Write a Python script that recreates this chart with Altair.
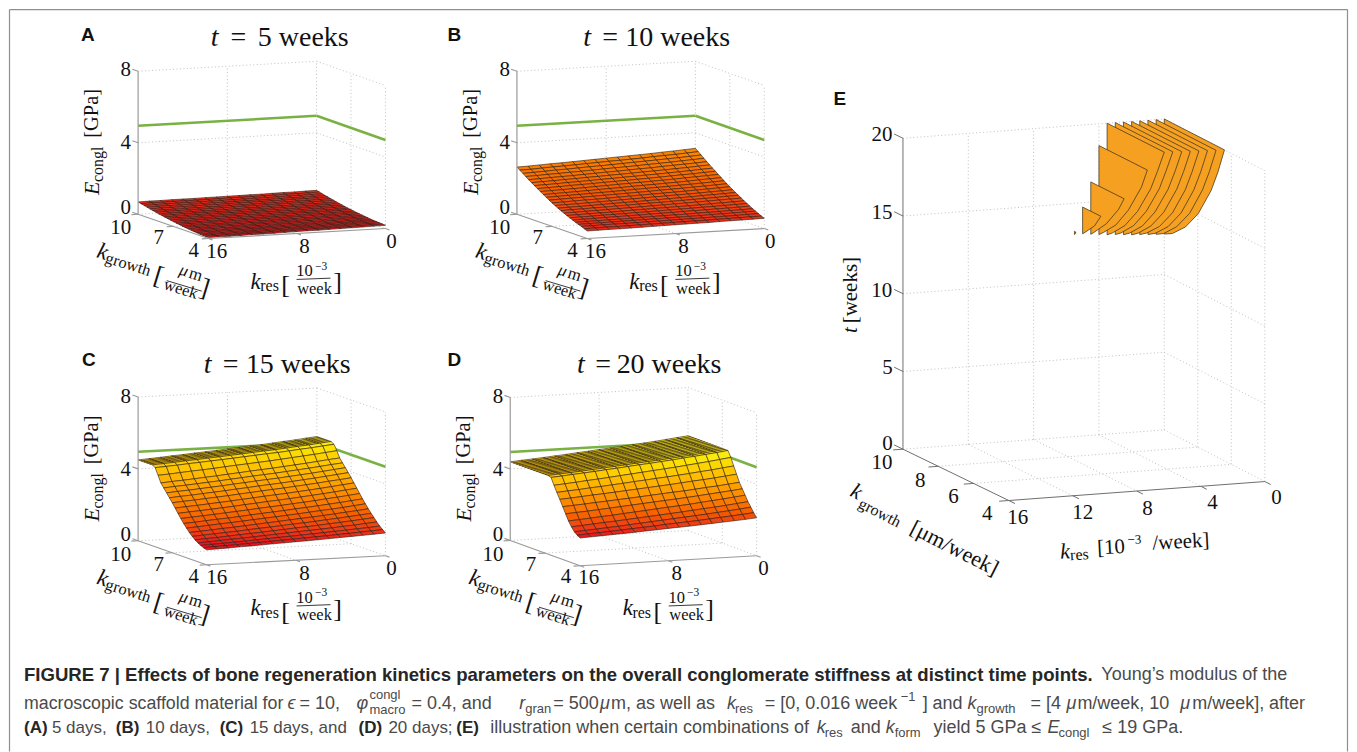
import altair as alt
import pandas as pd

# ---- axis ticks -----------------------------------------------------------
KRES_TICKS_SMALL = [16, 8, 0]
KG_TICKS_SMALL = [10, 7, 4]
E_TICKS = [0, 4, 8]
KRES_TICKS_E = [16, 12, 8, 4, 0]
KG_TICKS_E = [10, 8, 6, 4]
T_TICKS = [0, 5, 10, 15, 20]

# ---- surface grids: E_congl in 0.01 GPa -------------------------------------
# columns k_res = 16, 15, ... 0 ; rows k_growth = 10, 9.75, ... 4
E_A = [
[69,70,70,71,71,71,72,72,73,73,74,74,75,76,76,77,78],
[65,66,66,67,67,67,68,68,69,69,70,70,71,72,72,73,74],
[61,62,62,63,63,63,64,64,65,65,66,66,67,68,68,69,70],
[57,58,58,59,59,59,60,60,61,61,62,62,63,64,64,65,66],
[53,54,54,55,55,56,56,57,58,58,59,59,60,61,61,62,63],
[49,50,50,51,51,52,52,53,54,54,55,55,56,57,57,58,59],
[46,47,47,48,48,49,49,50,51,51,52,52,53,54,54,55,56],
[42,43,43,44,44,45,45,46,47,47,48,48,49,50,50,51,52],
[39,40,40,41,41,42,42,43,44,44,45,45,46,47,47,48,49],
[36,37,37,38,38,39,39,40,41,41,42,42,43,44,44,45,46],
[33,34,34,35,35,36,36,37,38,38,39,39,40,41,41,42,43],
[30,31,31,32,32,33,33,34,35,35,36,36,37,38,38,39,40],
[27,28,28,29,29,30,31,31,32,33,33,34,35,35,36,37,38],
[24,25,25,26,26,27,28,28,29,30,30,31,32,32,33,34,35],
[22,23,23,24,24,25,26,26,27,28,28,29,30,30,31,32,33],
[19,20,20,21,21,22,23,23,24,25,25,26,27,28,29,30,31],
[17,18,18,19,19,20,21,21,22,23,23,24,25,26,27,28,29],
[15,16,16,17,17,18,19,19,20,21,21,22,23,24,25,26,27],
[13,14,14,15,15,16,17,17,18,19,19,20,21,22,23,24,25],
[11,12,12,13,13,14,15,15,16,17,17,18,19,20,21,22,23],
[10,11,11,12,12,13,14,14,15,16,16,17,18,19,20,21,22],
[8,9,9,10,11,11,12,13,14,15,15,16,17,18,19,20,21],
[7,8,8,9,10,10,11,12,13,14,14,15,16,17,18,19,20],
[6,7,7,8,9,9,10,11,12,13,13,14,15,16,17,18,19],
[5,6,6,7,8,8,9,10,11,12,12,13,14,15,16,17,18],
]
E_B = [
[264,266,269,272,274,277,280,283,286,289,292,295,298,302,305,309,313],
[252,254,257,260,262,265,268,271,274,276,279,282,286,289,292,296,300],
[240,242,245,248,250,253,256,258,261,264,267,270,273,276,279,283,287],
[228,230,233,235,238,240,243,246,249,251,254,257,260,263,267,270,274],
[216,218,221,223,225,228,231,234,236,239,242,244,248,251,254,257,261],
[205,207,209,212,214,217,219,222,224,227,230,232,235,238,241,245,248],
[194,196,198,201,203,205,208,210,213,215,218,220,223,226,229,233,236],
[183,185,187,190,192,194,197,199,201,204,206,209,212,215,217,221,224],
[172,174,176,178,180,183,185,188,190,192,195,197,200,203,206,209,212],
[161,163,165,167,169,172,174,176,179,181,183,186,188,191,194,197,200],
[151,153,155,157,159,161,163,165,168,170,172,174,177,179,182,185,188],
[141,143,145,147,149,151,153,155,157,159,162,164,166,169,171,174,177],
[131,133,135,137,138,140,143,145,147,149,151,153,155,158,160,163,166],
[122,124,125,127,129,131,133,135,137,139,141,143,145,147,150,152,155],
[113,115,116,118,120,122,124,125,127,129,131,133,135,138,140,142,145],
[105,107,108,110,111,113,115,117,119,120,122,124,126,128,130,133,135],
[97,98,100,101,103,105,106,108,110,111,113,115,117,119,121,123,125],
[89,90,92,93,94,96,98,99,101,102,104,105,107,109,111,113,115],
[82,83,84,86,87,88,90,91,93,94,96,97,99,100,102,104,106],
[75,76,77,79,80,81,82,84,85,86,88,89,90,92,93,95,97],
[68,69,70,71,72,73,75,76,77,78,79,81,82,83,85,86,88],
[62,63,64,65,66,67,68,69,70,71,72,73,75,76,77,79,80],
[56,57,58,59,59,60,61,62,63,64,65,66,67,68,69,71,72],
[49,50,51,51,52,53,54,55,56,57,58,58,60,61,62,63,64],
[42,43,44,44,45,46,47,48,49,50,51,51,53,54,55,56,57],
]
PLATEAU_C = [450,454,458,463,467,472,476,481,486,491,496,500,506,512,517,524,530]
E_C = [PLATEAU_C] * 6 + [
[440,444,448,453,457,462,466,471,476,481,486,490,496,502,507,514,520],
[403,407,412,417,421,426,432,437,442,447,452,458,464,470,476,483,490],
[366,371,375,380,385,390,396,401,407,412,417,423,429,435,442,449,455],
[344,349,353,358,363,368,374,379,385,390,395,401,407,413,420,427,433],
[322,327,331,336,341,346,352,357,363,368,373,379,385,391,398,405,412],
[300,305,309,314,319,324,330,335,341,346,351,357,363,369,376,383,390],
[278,283,287,292,297,302,308,313,319,324,329,335,341,347,354,360,367],
[254,259,263,268,273,278,284,289,295,300,305,311,317,323,330,337,344],
[230,235,239,244,249,254,260,265,271,276,281,287,293,299,306,313,320],
[207,212,216,221,226,231,236,242,247,252,258,263,269,276,282,289,296],
[185,189,194,199,203,208,214,219,224,229,235,240,246,252,258,265,272],
[165,169,174,179,183,188,193,198,203,208,213,219,225,230,236,243,250],
[146,150,154,159,163,168,173,178,183,188,193,198,203,209,215,221,228],
[130,134,138,142,146,151,156,160,165,170,174,179,185,190,196,202,208],
[116,120,123,128,132,136,140,145,149,154,158,163,168,173,178,184,190],
[105,108,112,116,119,123,127,131,135,139,143,147,151,156,160,166,171],
[96,99,102,105,108,112,115,119,122,126,129,133,137,141,145,149,154],
[89,92,94,97,100,103,106,109,112,115,118,121,125,128,132,136,140],
[83,85,87,90,92,95,98,100,103,105,108,111,114,117,120,123,127],
]
PLATEAU_D = [440,445,449,454,459,464,470,475,481,486,491,497,503,509,516,523,530]
E_D = [PLATEAU_D] * 14 + [
[435,440,445,450,455,461,466,472,478,483,489,495,502,508,515,522,530],
[397,402,407,413,418,424,430,436,442,448,454,460,467,474,481,489,497],
[363,368,372,378,382,388,393,399,404,410,415,421,427,434,440,448,455],
[330,334,339,344,348,353,358,363,368,373,378,384,390,395,401,408,415],
[295,299,303,308,312,317,321,326,331,336,341,345,351,357,362,369,375],
[261,265,269,274,279,284,289,294,299,304,309,314,320,326,332,338,345],
[227,231,236,241,245,251,256,261,267,272,277,282,289,295,301,308,315],
[200,204,209,214,218,223,228,233,238,243,248,254,260,265,271,278,285],
[178,182,186,191,195,200,205,210,215,220,225,230,235,241,247,253,260],
[165,169,172,176,180,184,188,192,197,201,205,209,214,219,224,229,235],
[155,158,161,164,167,170,174,177,181,184,187,191,195,199,203,207,212],
]
GREEN_E = [4.95, 4.95, 4.95]

# ---- panel E slices: k_res -> outline (k_growth, t) along the lower curve ----
SLICE_TOP = {0: 20, .5: 20, 1: 20, 1.5: 20, 2: 20, 2.5: 20, 3: 20, 3.5: 20, 4: 18.6, 4.5: 16.3, 5: 14.72, 5.5: 13.2}
SLICES = {
0: [(10,12.6),(9.52,12.9),(8.74,13.75),(7.97,15.04),(7.2,16.96),(6.8,18.35),(6.41,20)],
.5: [(10,12.62),(9.55,12.92),(8.78,13.78),(8.0,15.08),(7.24,17.0),(6.83,18.4),(6.43,20)],
1: [(10,12.65),(9.58,12.95),(8.8,13.82),(8.03,15.12),(7.27,17.03),(6.86,18.42),(6.46,20)],
1.5: [(10,12.68),(9.6,13.0),(8.83,13.85),(8.06,15.15),(7.3,17.05),(6.89,18.45),(6.49,20)],
2: [(10,12.7),(9.62,13.02),(8.86,13.9),(8.1,15.2),(7.33,17.1),(6.92,18.47),(6.52,20)],
2.5: [(10,12.75),(9.64,13.05),(8.88,13.93),(8.13,15.25),(7.36,17.13),(6.95,18.5),(6.55,20)],
3: [(10,12.8),(9.67,13.08),(8.92,13.97),(8.17,15.3),(7.4,17.18),(7.0,18.55),(6.6,20)],
3.5: [(10,12.82),(9.7,13.1),(8.95,14.0),(8.2,15.33),(7.43,17.2),(7.03,18.55),(6.63,20)],
4: [(10,12.88),(9.74,13.15),(9.0,14.05),(8.27,15.4),(7.5,17.3),(7.15,18.6)],
4.5: [(10,12.93),(9.78,13.2),(9.08,14.12),(8.36,15.45),(8.04,16.3)],
5: [(10,13.0),(9.8,13.25),(9.3,13.9),(8.93,14.72)],
5.5: [(10,13.0),(9.93,13.1)],
}

# ---- layout of the figure (pixels on the page) ------------------------------
ORIGIN = 8
W, H = 1341, 744
PANELS = {
    "A": dict(O=(137.3, 214), B=(316, 204), F=(207.7, 238.3), R=(385, 228.3), zs=17.9, lo=0, hi=14.0),
    "B": dict(O=(516.7, 214), B=(695.4, 204), F=(587.1, 238.3), R=(764.4, 228.3), zs=17.9, lo=0.2, hi=6.5),
    "C": dict(O=(137.3, 541), B=(316.3, 532), F=(205.7, 565), R=(385, 556), zs=18, lo=1.0, hi=5.2),
    "D": dict(O=(510, 540.7), B=(688, 530.7), F=(580, 566), R=(756.7, 556), zs=17.9, lo=1.6, hi=5.0),
    "E": dict(O=(903.3, 449.3), B=(1165, 430), F=(1009.3, 500.7), R=(1265.7, 481.7), zs=15.57, lo=0, hi=1),
}
XS = alt.Scale(domain=[ORIGIN, ORIGIN + W], nice=False, zero=False)
YS = alt.Scale(domain=[ORIGIN + H, ORIGIN], nice=False, zero=False)


def project(p, kres, kg, z):
    s = (16 - kres) / 16
    r = (10 - kg) / 6
    q = PANELS[p]
    x = (1-s)*(1-r)*q["O"][0] + s*(1-r)*q["B"][0] + (1-s)*r*q["F"][0] + s*r*q["R"][0]
    y = (1-s)*(1-r)*q["O"][1] + s*(1-r)*q["B"][1] + (1-s)*r*q["F"][1] + s*r*q["R"][1]
    return x, y - z * q["zs"]


def seg(p, a, b):
    x, y = project(p, *a)
    x2, y2 = project(p, *b)
    return dict(x=x, y=y, x2=x2, y2=y2)


def box(p, kres_t, kg_t, z_t):
    top = max(z_t)
    dotted, solid = [], []
    for z in z_t:
        dotted.append(seg(p, (16, 10, z), (0, 10, z)))
        dotted.append(seg(p, (0, 10, z), (0, 4, z)))
    for k in kres_t:
        if k != 16:
            dotted.append(seg(p, (k, 10, 0), (k, 10, top)))
        if k not in (16, 0):
            dotted.append(seg(p, (k, 10, 0), (k, 4, 0)))
    for g in kg_t:
        if g != 10:
            dotted.append(seg(p, (0, g, 0), (0, g, top)))
        if g not in (10, 4):
            dotted.append(seg(p, (16, g, 0), (0, g, 0)))
    solid.append(seg(p, (16, 10, 0), (16, 10, top)))
    solid.append(seg(p, (16, 10, 0), (16, 4, 0)))
    solid.append(seg(p, (16, 4, 0), (0, 4, 0)))
    for k in kres_t:
        solid.append(seg(p, (k, 4, 0), (k, 3.65, 0)))
    for g in kg_t:
        solid.append(seg(p, (16, g, 0), (16.6, g, 0)))
    for z in z_t:
        solid.append(seg(p, (16, 10, z), (16, 10.5, z)))
    return dotted, solid


def rules(rows, **kw):
    return alt.Chart(pd.DataFrame(rows)).mark_rule(**kw).encode(
        x=alt.X("x:Q", scale=XS, axis=None), y=alt.Y("y:Q", scale=YS, axis=None),
        x2="x2:Q", y2="y2:Q")


def texts(rows, font="Liberation Serif", align="center", color="#111111", **kw):
    df = pd.DataFrame(rows, columns=["t", "x", "y", "s", "a"])
    return alt.Chart(df).mark_text(font=font, align=align, baseline="middle", color=color, **kw).encode(
        x=alt.X("x:Q", scale=XS, axis=None), y=alt.Y("y:Q", scale=YS, axis=None),
        text="t:N", size=alt.Size("s:Q", scale=None), angle=alt.Angle("a:Q", scale=None))


# ---- grids and axes ----------------------------------------------------------
dotted, solid = [], []
for p in "ABCD":
    d, s = box(p, KRES_TICKS_SMALL, KG_TICKS_SMALL, E_TICKS)
    dotted += d
    solid += s
d_e, s_e = box("E", KRES_TICKS_E, KG_TICKS_E, T_TICKS)

green = []
for p in "ABCD":
    green.append(seg(p, (16, 10, GREEN_E[0]), (0, 10, GREEN_E[1])))
    green.append(seg(p, (0, 10, GREEN_E[1]), (0, 4, GREEN_E[2])))

# ---- surfaces -------------------------------------------------------------------
cells = []
for p, grid in zip("ABCD", (E_A, E_B, E_C, E_D)):
    q = PANELS[p]
    for i in range(24):
        g0, g1 = 10 - i * .25, 10 - (i + 1) * .25
        for j in range(16):
            k0, k1 = 16 - j, 16 - (j + 1)
            zs = [grid[i][j] / 100, grid[i][j+1] / 100, grid[i+1][j+1] / 100, grid[i+1][j] / 100]
            pts = [project(p, k0, g0, zs[0]), project(p, k1, g0, zs[1]),
                   project(p, k1, g1, zs[2]), project(p, k0, g1, zs[3])]
            ring = [[x - ORIGIN, y - ORIGIN] for x, y in pts]
            ring.append(ring[0])
            level = min(1, max(0, (sum(zs) / 4 - q["lo"]) / (q["hi"] - q["lo"])))
            cells.append({"type": "Feature", "properties": {"level": level},
                          "geometry": {"type": "Polygon", "coordinates": [ring]}})

surface = alt.Chart(alt.Data(values=cells)).mark_geoshape(
    stroke="#2b1c14", strokeWidth=0.6).encode(
    color=alt.Color("properties.level:Q", legend=None,
                    scale=alt.Scale(domain=[0, 1], range=["#e8141e", "#f9ea0f"]))
).project(type="identity", scale=1, translate=[0, 0])

slices = []
for k in sorted(SLICES):
    line = SLICES[k]
    pts = [project("E", k, 10, SLICE_TOP[k])] + [project("E", k, g, t) for g, t in reversed(line)]
    if line[-1][1] != SLICE_TOP[k]:
        pts.insert(1, project("E", k, line[-1][0], SLICE_TOP[k]))
    ring = [[x - ORIGIN, y - ORIGIN] for x, y in pts]
    ring.append(ring[0])
    slices.append({"type": "Feature", "properties": {"k": k},
                   "geometry": {"type": "Polygon", "coordinates": [ring]}})
slice_chart = alt.Chart(alt.Data(values=slices)).mark_geoshape(
    fill="#f5a020", stroke="#4a3a20", strokeWidth=0.8
).project(type="identity", scale=1, translate=[0, 0])

# ---- text -----------------------------------------------------------------------
OFFSETS = {"A": (0, 0), "B": (379.4, 0), "C": (0, 327), "D": (372.7, 327)}
TITLES = {"A": ("5 weeks", 210, 227.7, 256.7, 38), "B": ("10 weeks", 583, 600, 631.7, 38),
          "C": ("15 weeks", 203, 220, 251.7, 365), "D": ("20 weeks", 576.7, 593, 623, 365)}
LETTERS = [("A", 87, 34.5), ("B", 454, 34.5), ("C", 88, 360), ("D", 454, 360), ("E", 840, 99)]

roman, italic, bars = [], [], []
for p, (dx, dy) in OFFSETS.items():
    lab, tx, ex, wx, ty = TITLES[p]
    italic.append(("t", tx + 4, ty, 28, 0))
    roman.append(("=", ex + 10, ty, 28, 0))
    roman.append((lab, wx + 46, ty, 28, 0))
    for t, x, y in [("8", 125, 70), ("4", 125, 143), ("0", 125, 208), ("10", 120, 228), ("7", 158, 238),
                    ("4", 193, 250.7), ("16", 216, 251.7), ("8", 304, 247), ("0", 391, 242)]:
        roman.append((t, x + dx, y + dy, 21, 0))
    italic.append(("E", 91 + dx, 188 + dy, 22, 270))
    roman.append(("congl", 97 + dx, 164 + dy, 16, 270))
    roman.append(("[GPa]", 91 + dx, 113 + dy, 20.5, 270))
    italic.append(("k", 101.7 + dx, 251.7 + dy, 23, 17))
    roman.append(("growth", 127.3 + dx, 264.3 + dy, 16.5, 17))
    roman.append(("[", 158 + dx, 276 + dy, 26, 17))
    italic.append(("μ", 183 + dx, 270.5 + dy, 17, 17))
    roman.append(("m", 195 + dx, 274.5 + dy, 17, 17))
    roman.append(("week", 180 + dx, 289 + dy, 16.5, 17))
    roman.append(("]", 204 + dx, 288 + dy, 26, 17))
    bars.append(dict(x=166 + dx, y=280.5 + dy, x2=201 + dx, y2=291 + dy))
    italic.append(("k", 255 + dx, 281.7 + dy, 23, 0))
    roman.append(("res", 269 + dx, 286 + dy, 16, 0))
    roman.append(("[", 285 + dx, 285 + dy, 26, 0))
    roman.append(("10", 304 + dx, 271 + dy, 16.5, 0))
    roman.append(("−3", 320.5 + dx, 266.7 + dy, 11.5, 0))
    roman.append(("week", 314 + dx, 288.5 + dy, 16.5, 0))
    roman.append(("]", 337 + dx, 282 + dy, 26, 0))
    bars.append(dict(x=296 + dx, y=279.3 + dy, x2=330 + dx, y2=278 + dy))

for t, x, y in [("20", 882.3, 135), ("15", 882.3, 212.7), ("10", 882, 290.7), ("5", 887.7, 368.3), ("0", 887.7, 444.5),
                ("10", 882.3, 463.5), ("8", 920.7, 480.7), ("6", 954, 497.3), ("4", 987.7, 514),
                ("16", 1018.3, 518.3), ("12", 1083.3, 513.3), ("8", 1148.3, 509), ("4", 1213.3, 503.3), ("0", 1277.3, 498.3)]:
    roman.append((t, x, y, 21, 0))
italic.append(("t", 851.7, 330, 21, 270))
roman.append(("[weeks]", 851.7, 290, 21, 270))
italic.append(("k", 856.7, 491.7, 22, 27))
roman.append(("growth", 880, 513, 16, 27))
roman.append(("[μm/week]", 955, 548.3, 22, 27))
italic.append(("k", 1065.7, 551.7, 22, 357))
roman.append(("res", 1080, 555, 16, 357))
roman.append(("[10", 1111.7, 548, 21, 357))
roman.append(("−3", 1135, 540, 13, 357))
roman.append(("/week]", 1181.7, 542.3, 21, 357))

CAP_Y = (675, 704, 729)
FS = 18
SUB = 13
L3 = 17
bold_cap = [
    ("FIGURE 7 | Effects of bone regeneration kinetics parameters on the overall conglomerate stiffness at distinct time points.", 23, CAP_Y[0], 18.6, 0),
    ("(A)", 23, CAP_Y[2], 17, 0), ("(B)", 115, CAP_Y[2], 17, 0), ("(C)", 219, CAP_Y[2], 17, 0),
    ("(D)", 358, CAP_Y[2], 17, 0), ("(E)", 456, CAP_Y[2], 17, 0),
]
body_cap = [
    ("Young’s modulus of the", 1102, CAP_Y[0], FS, 0),
    ("macroscopic scaffold material for", 23, CAP_Y[1], 17.8, 0),
    ("= 10,", 299, CAP_Y[1], FS, 0),
    ("congl", 369, CAP_Y[1] - 9, SUB, 0), ("macro", 369, CAP_Y[1] + 6, SUB, 0),
    ("= 0.4, and", 411, CAP_Y[1], FS, 0),
    ("gran", 525, CAP_Y[1] + 5, SUB, 0),
    ("= 500", 553, CAP_Y[1], FS, 0), ("m, as well as", 611, CAP_Y[1], FS, 0),
    ("res", 735, CAP_Y[1] + 5, SUB, 0),
    ("= [0, 0.016 week", 765, CAP_Y[1], FS, 0), ("−1", 901, CAP_Y[1] - 7, SUB, 0),
    ("] and", 923, CAP_Y[1], FS, 0),
    ("growth", 977, CAP_Y[1] + 5, SUB, 0),
    ("= [4", 1031, CAP_Y[1], FS, 0), ("m/week, 10", 1078, CAP_Y[1], FS, 0), ("m/week], after", 1193, CAP_Y[1], FS, 0),
    ("5 days,", 51, CAP_Y[2], L3, 0), ("10 days,", 145, CAP_Y[2], L3, 0), ("15 days, and", 249, CAP_Y[2], L3, 0),
    ("20 days;", 388, CAP_Y[2], L3, 0), ("illustration when certain combinations of", 490, CAP_Y[2], FS, 0),
    ("res", 825, CAP_Y[2] + 5, SUB, 0), ("and", 851, CAP_Y[2], FS, 0),
    ("form", 895, CAP_Y[2] + 5, SUB, 0), ("yield 5 GPa ≤", 934, CAP_Y[2], FS, 0),
    ("congl", 1059, CAP_Y[2] + 5, SUB, 0), ("≤ 19 GPa.", 1103, CAP_Y[2], FS, 0),
]
ital_cap = [
    ("ϵ", 287, CAP_Y[1], FS, 0), ("φ", 356, CAP_Y[1], FS, 0), ("r", 519, CAP_Y[1], FS, 0),
    ("μ", 600, CAP_Y[1], FS, 0), ("k", 727, CAP_Y[1], FS, 0), ("k", 968, CAP_Y[1], FS, 0),
    ("μ", 1067, CAP_Y[1], FS, 0), ("μ", 1181, CAP_Y[1], FS, 0),
    ("k", 817, CAP_Y[2], FS, 0), ("k", 886, CAP_Y[2], FS, 0), ("E", 1048, CAP_Y[2], FS, 0),
]

frame = [dict(x=8.5, y=9, x2=8.5, y2=752), dict(x=1348.5, y=9, x2=1348.5, y2=752),
         dict(x=8.5, y=9, x2=1348.5, y2=9)]

chart = alt.layer(
    rules(frame, color="#8f8f8f", strokeWidth=1.2),
    rules(dotted + d_e, color="#b9b9b9", strokeWidth=0.9, strokeDash=[1, 2.5]),
    rules(green, color="#79b143", strokeWidth=2.6),
    surface,
    slice_chart,
    rules(solid, color="#9a9a9a", strokeWidth=1.2),
    rules(s_e, color="#6e6e6e", strokeWidth=1),
    rules(bars, color="#222222", strokeWidth=0.9),
    texts(roman),
    texts(italic, fontStyle="italic"),
    texts([(t, x, y, 19, 0) for t, x, y in LETTERS], font="Liberation Sans", fontWeight="bold", color="#111111"),
    texts(bold_cap, font="Liberation Sans", align="left", fontWeight="bold", color="#262626"),
    texts(body_cap, font="Liberation Sans", align="left", color="#4a4a4a"),
    texts(ital_cap, font="Liberation Sans", align="left", fontStyle="italic", color="#4a4a4a"),
).resolve_scale(color="independent").properties(width=W, height=H, padding=0).configure_view(stroke=None)

chart.save("out.html", embed_options={"renderer": "svg", "actions": False})
